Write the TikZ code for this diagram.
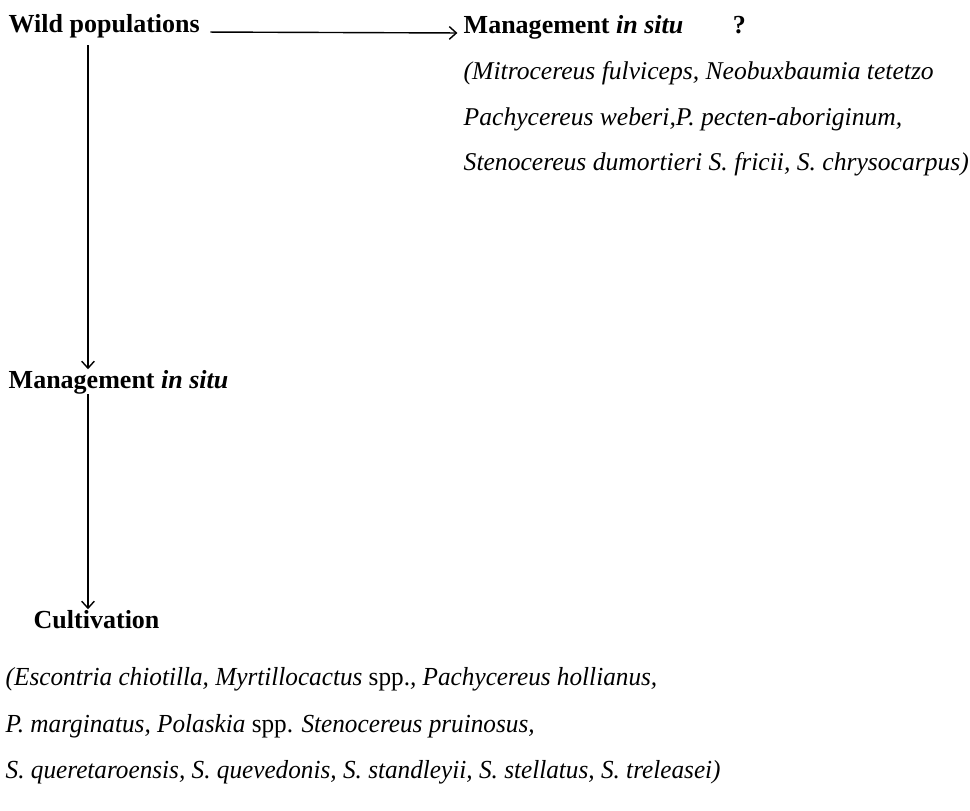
\documentclass[tikz,border=0pt]{standalone}
\usepackage{fontspec}
\setmainfont{Liberation Serif}
\newfontfamily\narrowserif[FakeStretch=0.97]{Liberation Serif}
\usepackage{tikz}
\usetikzlibrary{arrows.meta}

\begin{document}
\begin{tikzpicture}
[x=0.025cm,y=-0.025cm,line width=1pt,>={Straight Barb[length=5pt,width=9pt]}]
\tikzstyle{head}=[anchor=base west,inner sep=0,font=\fontsize{18.5}{22}\selectfont\bfseries]
\tikzstyle{taxa}=[anchor=base west,inner sep=0,font=\fontsize{18.2}{22}\selectfont\itshape]
\tikzstyle{narrowtaxa}=[taxa,font=\fontsize{18.5}{22}\selectfont\narrowserif\itshape]

\useasboundingbox(0,0)rectangle(970,810);

\node(wild)[head]at(8,32){Wild populations};
\node(insitu1)[head]at(463,33){Management \textit{in situ}\hspace{1.9em}?};
\node(sp1)[taxa]at(463,79){(Mitrocereus fulviceps, Neobuxbaumia tetetzo};
\node(sp2)[taxa]at(463,125){Pachycereus weberi,P. pecten-aboriginum,};
\node(sp3)[taxa]at(463,170){Stenocereus dumortieri S. fricii, S. chrysocarpus)};

\node(insitu2)[head]at(8,388){Management \textit{in situ}};
\node(cult)[head]at(33,628){Cultivation};

\node(sp4)[narrowtaxa]at(5,685){(Escontria chiotilla, Myrtillocactus \textup{spp.}, Pachycereus hollianus,};
\node(sp5)[narrowtaxa]at(5,732){P. marginatus, Polaskia \textup{spp.} Stenocereus pruinosus,};
\node(sp6)[narrowtaxa]at(5,778){S. queretaroensis, S. quevedonis, S. standleyii, S. stellatus, S. treleasei)};

\coordinate(col)at(88,0);

\draw[->,shorten <=7pt,shorten >=4pt](wild.base east)--(insitu1.base west);
\draw[->,shorten <=5pt](wild.south -| col)--(insitu2.north -| col);
\draw[->](insitu2.south -| col)--(cult.north -| col);
\end{tikzpicture}
\end{document}
